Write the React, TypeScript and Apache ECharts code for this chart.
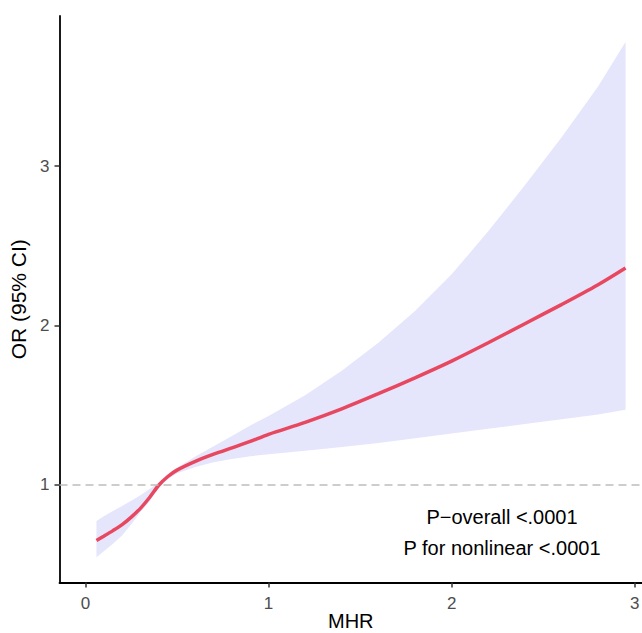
import React, { useEffect, useRef } from "react";
import * as echarts from "echarts";

// MHR values (x)
const mhr = [0.06, 0.1, 0.15, 0.2, 0.25, 0.3, 0.35, 0.4, 0.45, 0.5, 0.6, 0.7, 0.8, 0.9, 1.0, 1.2, 1.4, 1.6, 1.8, 2.0, 2.2, 2.4, 2.6, 2.8, 2.95];
// Odds ratio estimate
const orEst = [0.648, 0.675, 0.71, 0.748, 0.795, 0.85, 0.918, 0.995, 1.05, 1.09, 1.145, 1.19, 1.23, 1.27, 1.315, 1.39, 1.475, 1.57, 1.67, 1.775, 1.89, 2.01, 2.13, 2.255, 2.36];
// 95% CI upper
const ciUpper = [0.77, 0.8, 0.833, 0.865, 0.897, 0.932, 0.972, 1.01, 1.06, 1.105, 1.175, 1.24, 1.305, 1.37, 1.43, 1.56, 1.715, 1.89, 2.09, 2.32, 2.59, 2.88, 3.18, 3.5, 3.78];
// 95% CI lower
const ciLower = [0.543, 0.58, 0.628, 0.68, 0.75, 0.825, 0.895, 0.982, 1.035, 1.07, 1.11, 1.14, 1.16, 1.177, 1.19, 1.212, 1.235, 1.26, 1.29, 1.32, 1.35, 1.38, 1.41, 1.44, 1.47];

const xTicks = [0, 1, 2, 3];
const yTicks = [1, 2, 3];
const annotations = ["P\u2212overall <.0001", "P for nonlinear <.0001"];

const FONT = "'Liberation Sans', Arial, Helvetica, sans-serif";

export default function App() {
  const ref = useRef<HTMLDivElement>(null);
  useEffect(() => {
    if (!ref.current) return;
    const chart = echarts.init(ref.current, null, { renderer: "svg" });
    chart.setOption({
      animation: false,
      textStyle: { fontFamily: FONT },
      grid: {
        left: 59.5,
        right: 0,
        top: 16,
        bottom: 50.5,
        containLabel: false,
        outerBoundsMode: "none",
      },
      xAxis: {
        type: "value",
        min: -0.142,
        max: 3.04,
        name: "MHR",
        nameLocation: "middle",
        nameGap: 28,
        nameMoveOverlap: false,
        nameTextStyle: { fontSize: 20, color: "#000", fontFamily: FONT },
        axisLine: { show: true, onZero: false, lineStyle: { color: "#000", width: 1.8 } },
        axisTick: { show: true, length: 5, customValues: xTicks, lineStyle: { color: "#333", width: 1.5 } },
        axisLabel: { customValues: xTicks, fontSize: 17, color: "#4D4D4D", margin: 12, fontFamily: FONT },
        splitLine: { show: false },
      },
      yAxis: {
        type: "value",
        min: 0.384,
        max: 3.943,
        name: "OR (95% CI)",
        nameLocation: "middle",
        nameGap: 31,
        nameMoveOverlap: false,
        nameRotate: 90,
        nameTextStyle: { fontSize: 21, color: "#000", fontFamily: FONT },
        axisLine: { show: true, onZero: false, lineStyle: { color: "#000", width: 1.8 } },
        axisTick: { show: true, length: 5, customValues: yTicks, lineStyle: { color: "#333", width: 1.5 } },
        axisLabel: { customValues: yTicks, fontSize: 17, color: "#4D4D4D", margin: 10, fontFamily: FONT },
        splitLine: { show: false },
      },
      series: [
        {
          type: "custom",
          z: 1,
          silent: true,
          data: mhr.map((x, i) => [x, ciUpper[i], ciLower[i]]),
          encode: { x: 0, y: [1, 2] },
          renderItem: (params: any, api: any) => {
            if (params.dataIndex !== 0) return null;
            const top = mhr.map((x, i) => api.coord([x, ciUpper[i]]));
            const bot = mhr.map((x, i) => api.coord([x, ciLower[i]])).reverse();
            return {
              type: "polygon",
              shape: { points: top.concat(bot) },
              style: { fill: "#E5E5FC", stroke: null },
            };
          },
        },
        {
          type: "line",
          z: 3,
          data: mhr.map((x, i) => [x, orEst[i]]),
          smooth: 0.3,
          showSymbol: false,
          symbol: "none",
          lineStyle: { color: "#E8485F", width: 3.5 },
          markLine: {
            silent: true,
            symbol: ["none", "none"],
            label: { show: false },
            lineStyle: { color: "#BDBDBD", width: 1.6, type: [8, 5] },
            data: [{ yAxis: 1 }],
          },
        },
      ],
      graphic: annotations.map((t, i) => ({
        type: "text",
        x: 502,
        y: 517 + i * 31,
        style: {
          text: t,
          fontSize: 20,
          fontFamily: FONT,
          fill: "#000",
          textAlign: "center",
          textVerticalAlign: "middle",
        },
      })),
    });
    return () => chart.dispose();
  }, []);
  return (
    <div
      ref={ref}
      style={{ position: "fixed", left: 0, top: 0, width: 642, height: 633, background: "#fff" }}
    />
  );
}
